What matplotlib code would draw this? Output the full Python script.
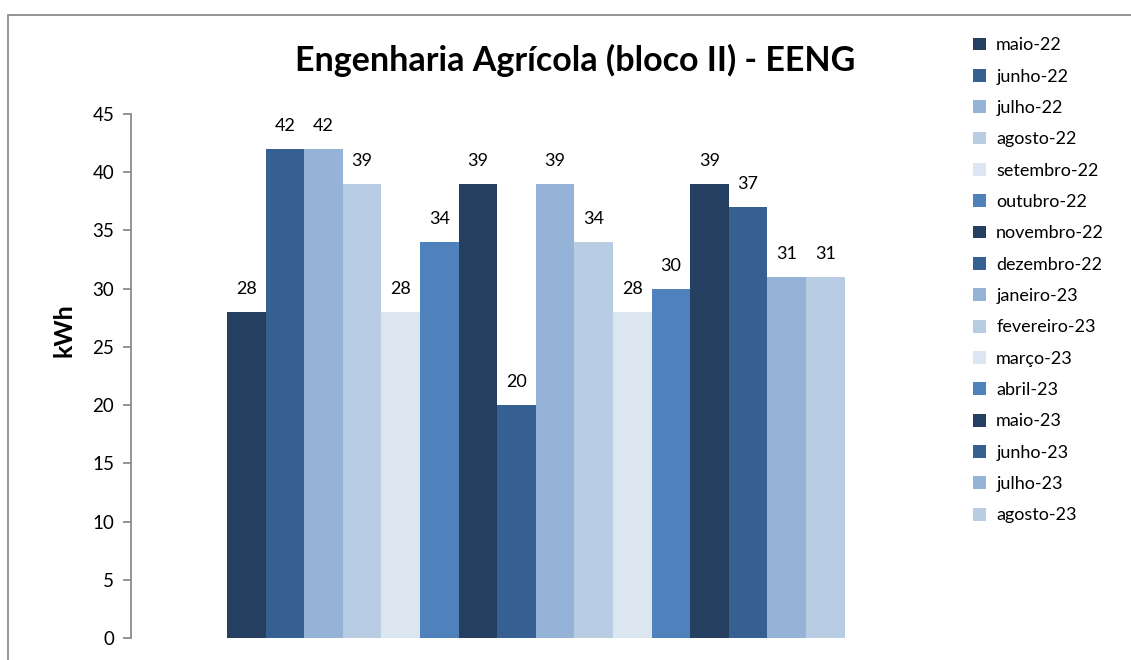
import numpy as np
import matplotlib.pyplot as plt
from matplotlib.patches import Rectangle

plt.rcParams['font.family'] = ['Lato', 'DejaVu Sans']

# dados de consumo (kWh)
meses = ["maio-22", "junho-22", "julho-22", "agosto-22", "setembro-22",
         "outubro-22", "novembro-22", "dezembro-22", "janeiro-23",
         "fevereiro-23", "março-23", "abril-23", "maio-23", "junho-23",
         "julho-23", "agosto-23"]
consumo = [28, 42, 42, 39, 28, 34, 39, 20, 39, 34, 28, 30, 39, 37, 31, 31]

paleta = ["#253F60", "#366092", "#95B3D7", "#B8CCE4", "#DCE6F1", "#4F81BD"]

fig = plt.figure(figsize=(11.31, 6.6), dpi=100)
# moldura do grafico
fig.patches.append(Rectangle((8 / 1131, -0.05), 1.2, 1 - 15 / 660 + 0.05,
                             transform=fig.transFigure, fill=False,
                             edgecolor="#8C8C8C", linewidth=1.3))

ax = fig.add_axes([131 / 1131, 22 / 660, (935 - 131) / 1131, (638 - 22) / 660])

n = len(consumo)
w = 38.6 / 804 * 17  # largura de cada barra em unidades de eixo
x0 = 8.5 - n * w / 2 + 0.06
for i, (m, v) in enumerate(zip(meses, consumo)):
    xi = x0 + (i + 0.5) * w
    ax.bar(xi, v, width=w, color=paleta[i % 6], label=m, linewidth=0)
    ax.text(xi, v + 1.3, str(v), ha="center", va="bottom", fontsize=13)

ax.set_xlim(0, 17)
ax.set_ylim(0, 45 * (638 - 22) / (638 - 114))
ax.set_yticks(np.arange(0, 50, 5))
ax.tick_params(axis="y", labelsize=13.5, color="#8C8C8C", length=6, width=1.3, pad=6)
ax.set_xticks([])
for s in ["top", "right", "bottom"]:
    ax.spines[s].set_visible(False)
ax.spines["left"].set_color("#8C8C8C")
ax.spines["left"].set_linewidth(1.3)
ax.spines["left"].set_bounds(0, 45)
ax.set_ylabel("kWh", fontsize=18, fontweight="bold", labelpad=12)

fig.text(575 / 1131, 1 - 60 / 660, "Engenharia Agrícola (bloco II) - EENG",
         ha="center", va="center", fontsize=24.5, fontweight="bold")

leg = ax.legend(loc="upper left", bbox_to_anchor=(957 / 1131, 1 - 21 / 660),
                bbox_transform=fig.transFigure, frameon=False, fontsize=13,
                handlelength=0.72, handleheight=0.72, handletextpad=0.55,
                labelspacing=0.85)

fig.savefig("out.png", dpi=100)
